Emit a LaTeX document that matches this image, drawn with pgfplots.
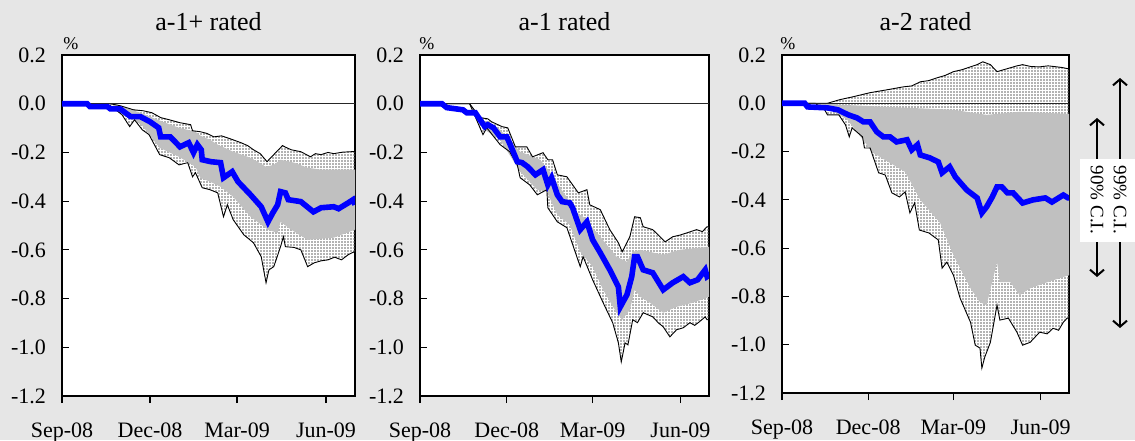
\documentclass[border=0pt]{standalone}
\usepackage{fontspec}
\setmainfont{Liberation Serif}
\usepackage{pgfplots}
\pgfplotsset{compat=1.18}
\usepgfplotslibrary{fillbetween}
\usetikzlibrary{patterns.meta,arrows.meta}
\definecolor{bg}{RGB}{230,230,230}
\definecolor{band}{RGB}{192,192,192}
\definecolor{med}{RGB}{0,0,255}
\pagecolor{bg}
\pgfplotsset{panel/.style={
  scale only axis, anchor=south west,
  xmin=0, xmax=303, ymin=-1.2, ymax=0.2,
  xtick={0,91,181,273}, xticklabels={Sep-08,Dec-08,Mar-09,Jun-09},
  ytick={-1.2,-1.0,-0.8,-0.6,-0.4,-0.2,0,0.2},
  yticklabels={-1.2,-1.0,-0.8,-0.6,-0.4,-0.2,0.0,0.2},
  xtick pos=left, ytick pos=left,
  xtick align=outside, ytick align=inside,
  major tick length=3.5pt,
  tick style={black, line width=0.6pt},
  axis line style={line width=1pt},
  axis background/.style={fill=white},
  ticklabel style={font=\fontsize{11}{12}\selectfont},
  yticklabel style={xshift=-4.5pt},
  xticklabel style={anchor=base, yshift=-17pt},
  clip=true,
},
dotsfill/.style={pattern={Dots[distance=1.5pt,radius=0.48pt]}, pattern color=black!60},
outl/.style={black, line width=0.45pt},
medl/.style={med, line width=2.8pt},
zerol/.style={black!85, line width=0.5pt},
}
\begin{document}
\begin{tikzpicture}

% ---------------- panel 1: a-1+ rated
\begin{axis}[panel, at={(31pt,22pt)}, width=146.5pt, height=170.5pt]
\addplot[outl, name path=u99] coordinates {(0,0) (50,0) (60,-0.008) (74,-0.025) (84,-0.029) (93,-0.037) (102,-0.057) (111,-0.066) (122,-0.078) (133,-0.086) (135,-0.111) (143,-0.115) (150,-0.122) (157,-0.136) (165,-0.132) (174,-0.144) (185,-0.160) (192,-0.172) (198,-0.189) (205,-0.205) (212,-0.238) (219,-0.209) (228,-0.172) (232,-0.180) (237,-0.189) (247,-0.197) (257,-0.218) (262,-0.205) (268,-0.209) (275,-0.200) (281,-0.205) (290,-0.199) (299,-0.197) (303,-0.197)};
\addplot[outl, name path=l99] coordinates {(0,0) (39,0) (50,-0.008) (62,-0.045) (70,-0.094) (75,-0.066) (83,-0.107) (90,-0.127) (101,-0.209) (111,-0.222) (121,-0.251) (130,-0.242) (135,-0.300) (138,-0.283) (145,-0.345) (153,-0.353) (161,-0.366) (167,-0.464) (171,-0.415) (177,-0.476) (188,-0.538) (198,-0.571) (206,-0.628) (211,-0.735) (214,-0.682) (219,-0.669) (226,-0.587) (229,-0.546) (231,-0.587) (240,-0.590) (247,-0.600) (254,-0.669) (261,-0.653) (268,-0.645) (275,-0.641) (282,-0.630) (289,-0.641) (296,-0.620) (302,-0.608) (303,-0.620)};
\addplot[draw=none, name path=u90] coordinates {(0,0) (50,0) (65,-0.016) (81,-0.037) (91,-0.053) (104,-0.074) (121,-0.099) (138,-0.115) (143,-0.131) (153,-0.148) (161,-0.168) (177,-0.197) (195,-0.222) (211,-0.259) (219,-0.251) (226,-0.230) (240,-0.242) (254,-0.263) (268,-0.271) (281,-0.271) (303,-0.271)};
\addplot[draw=none, name path=l90] coordinates {(0,0) (50,0) (60,-0.025) (71,-0.057) (83,-0.090) (91,-0.131) (101,-0.181) (121,-0.218) (138,-0.259) (143,-0.304) (153,-0.320) (164,-0.341) (177,-0.382) (195,-0.464) (213,-0.517) (223,-0.530) (226,-0.485) (237,-0.517) (254,-0.559) (281,-0.550) (303,-0.517)};
\addplot[dotsfill] fill between[of=u99 and l99];
\addplot[fill=band, draw=none] fill between[of=u90 and l90];
\addplot[zerol] coordinates {(0,0) (303,0)};
\addplot[medl] coordinates {(0,0) (26,0) (29,-0.012) (47,-0.012) (50,-0.021) (60,-0.021) (71,-0.053) (81,-0.053) (91,-0.074) (100,-0.099) (102,-0.136) (112,-0.136) (122,-0.177) (131,-0.160) (136,-0.201) (140,-0.168) (144,-0.189) (145,-0.230) (154,-0.238) (164,-0.242) (167,-0.304) (176,-0.279) (182,-0.320) (195,-0.374) (206,-0.423) (213,-0.485) (218,-0.448) (223,-0.415) (226,-0.361) (231,-0.366) (234,-0.394) (247,-0.402) (260,-0.444) (268,-0.427) (281,-0.423) (286,-0.431) (296,-0.407) (301,-0.394) (303,-0.415)};
\end{axis}

% ---------------- panel 2: a-1 rated
\begin{axis}[panel, at={(210pt,22pt)}, width=144.5pt, height=170.5pt]
\addplot[outl, name path=u99] coordinates {(0,0) (52,0) (63,-0.057) (71,-0.062) (75,-0.074) (86,-0.094) (92,-0.099) (100,-0.177) (112,-0.177) (118,-0.218) (129,-0.201) (134,-0.230) (139,-0.230) (144,-0.292) (154,-0.300) (166,-0.366) (175,-0.353) (178,-0.415) (189,-0.435) (199,-0.517) (208,-0.571) (212,-0.608) (220,-0.546) (225,-0.464) (231,-0.468) (234,-0.505) (244,-0.517) (250,-0.540) (257,-0.567) (265,-0.546) (272,-0.540) (280,-0.530) (290,-0.517) (296,-0.525) (301,-0.505) (303,-0.505)};
\addplot[outl, name path=l99] coordinates {(0,0) (52,0) (66,-0.127) (70,-0.099) (84,-0.168) (94,-0.197) (102,-0.251) (105,-0.304) (115,-0.333) (123,-0.374) (133,-0.353) (134,-0.427) (144,-0.485) (154,-0.509) (168,-0.669) (171,-0.628) (181,-0.723) (192,-0.817) (202,-0.899) (208,-0.982) (211,-1.060) (215,-0.982) (218,-0.990) (223,-0.887) (228,-0.899) (234,-0.858) (244,-0.875) (250,-0.900) (255,-0.916) (262,-0.957) (269,-0.928) (276,-0.920) (283,-0.899) (288,-0.910) (293,-0.895) (299,-0.875) (301,-0.887) (303,-0.887)};
\addplot[draw=none, name path=u90] coordinates {(0,0) (52,0) (68,-0.074) (84,-0.107) (105,-0.197) (126,-0.230) (136,-0.279) (147,-0.345) (165,-0.448) (171,-0.464) (189,-0.546) (206,-0.628) (217,-0.649) (223,-0.608) (231,-0.600) (255,-0.620) (272,-0.600) (303,-0.587)};
\addplot[draw=none, name path=l90] coordinates {(0,0) (52,0) (68,-0.107) (84,-0.148) (105,-0.279) (123,-0.353) (133,-0.361) (144,-0.456) (157,-0.497) (168,-0.608) (181,-0.669) (192,-0.764) (206,-0.858) (212,-0.887) (220,-0.846) (225,-0.764) (231,-0.793) (241,-0.817) (255,-0.858) (269,-0.834) (286,-0.817) (303,-0.793)};
\addplot[dotsfill] fill between[of=u99 and l99];
\addplot[fill=band, draw=none] fill between[of=u90 and l90];
\addplot[zerol] coordinates {(0,0) (303,0)};
\addplot[medl] coordinates {(0,0) (23,0) (28,-0.016) (45,-0.025) (49,-0.037) (58,-0.037) (63,-0.066) (68,-0.094) (71,-0.086) (77,-0.099) (84,-0.136) (91,-0.136) (96,-0.181) (102,-0.238) (107,-0.242) (113,-0.259) (121,-0.292) (129,-0.271) (134,-0.333) (138,-0.304) (144,-0.374) (149,-0.402) (157,-0.407) (160,-0.427) (168,-0.517) (175,-0.485) (181,-0.559) (189,-0.612) (199,-0.682) (208,-0.752) (210,-0.834) (217,-0.784) (222,-0.710) (225,-0.628) (228,-0.628) (234,-0.682) (244,-0.694) (255,-0.764) (265,-0.735) (276,-0.710) (283,-0.735) (291,-0.723) (299,-0.682) (301,-0.710) (303,-0.705)};
\end{axis}

% ---------------- panel 3: a-2 rated
\begin{axis}[panel, at={(391pt,23.5pt)}, width=143.5pt, height=169pt]
\addplot[outl, name path=u99] coordinates {(0,0) (48,0) (61,0.015) (75,0.027) (93,0.044) (111,0.056) (128,0.068) (137,0.072) (146,0.089) (155,0.094) (164,0.106) (172,0.115) (181,0.131) (190,0.139) (199,0.151) (206,0.160) (212,0.172) (220,0.160) (227,0.131) (234,0.139) (241,0.147) (248,0.155) (254,0.160) (263,0.152) (272,0.151) (281,0.155) (290,0.151) (296,0.148) (302,0.143) (303,0.143)};
\addplot[outl, name path=l99] coordinates {(0,0) (35,0) (45,-0.027) (48,-0.048) (60,-0.048) (67,-0.089) (71,-0.139) (74,-0.102) (85,-0.139) (87,-0.185) (93,-0.185) (102,-0.288) (109,-0.297) (116,-0.371) (124,-0.388) (130,-0.367) (135,-0.454) (140,-0.413) (145,-0.525) (155,-0.537) (165,-0.566) (169,-0.683) (174,-0.658) (181,-0.712) (188,-0.807) (199,-0.907) (204,-1.002) (209,-1.014) (211,-1.097) (214,-1.052) (220,-0.990) (227,-0.836) (230,-0.898) (239,-0.890) (248,-0.948) (254,-1.002) (262,-0.990) (272,-0.948) (280,-0.955) (286,-0.932) (292,-0.940) (297,-0.907) (301,-0.890) (303,-0.890)};
\addplot[draw=none, name path=u90] coordinates {(0,0) (48,0) (61,-0.006) (111,-0.015) (181,-0.027) (216,-0.048) (251,-0.035) (303,-0.044)};
\addplot[draw=none, name path=l90] coordinates {(0,0) (35,0) (48,-0.019) (69,-0.068) (96,-0.205) (130,-0.284) (146,-0.400) (167,-0.496) (181,-0.629) (199,-0.766) (209,-0.824) (216,-0.836) (227,-0.658) (230,-0.741) (241,-0.741) (251,-0.795) (262,-0.766) (280,-0.741) (303,-0.712)};
\addplot[dotsfill] fill between[of=u99 and l99];
\addplot[fill=band, draw=none] fill between[of=u90 and l90];
\addplot[zerol] coordinates {(0,0) (303,0)};
\addplot[medl] coordinates {(0,0) (24,0) (27,-0.015) (48,-0.019) (59,-0.027) (70,-0.048) (79,-0.060) (86,-0.077) (93,-0.077) (100,-0.118) (107,-0.139) (114,-0.139) (121,-0.160) (132,-0.151) (137,-0.193) (143,-0.172) (146,-0.214) (156,-0.226) (165,-0.243) (169,-0.288) (177,-0.263) (183,-0.305) (195,-0.359) (206,-0.392) (211,-0.454) (216,-0.429) (222,-0.388) (227,-0.346) (232,-0.346) (238,-0.371) (244,-0.371) (254,-0.413) (265,-0.400) (278,-0.392) (285,-0.409) (297,-0.380) (302,-0.392) (303,-0.392)};
\end{axis}

% titles and unit labels
\node[anchor=base, font=\fontsize{13}{15}\selectfont] at (104.25pt,204.5pt) {a-1+ rated};
\node[anchor=base, font=\fontsize{13}{15}\selectfont] at (282.25pt,204.5pt) {a-1 rated};
\node[anchor=base, font=\fontsize{13}{15}\selectfont] at (462.75pt,204.5pt) {a-2 rated};
\node[anchor=base west, inner sep=0pt, font=\fontsize{9}{10}\selectfont] at (31.5pt,195pt) {\%};
\node[anchor=base west, inner sep=0pt, font=\fontsize{9}{10}\selectfont] at (209.5pt,195pt) {\%};
\node[anchor=base west, inner sep=0pt, font=\fontsize{9}{10}\selectfont] at (390pt,195pt) {\%};

% confidence interval annotation
\draw[line width=1pt, {Straight Barb[length=3pt,width=7pt]}-{Straight Barb[length=3pt,width=7pt]}] (560pt,56pt) -- (560pt,181pt);
\draw[line width=1pt, {Straight Barb[length=3pt,width=7pt]}-{Straight Barb[length=3pt,width=7pt]}] (548.5pt,81.5pt) -- (548.5pt,161pt);
\fill[white] (540pt,99pt) rectangle (567.5pt,140.5pt);
\node[rotate=-90, inner sep=0pt, font=\fontsize{9.5}{11}\selectfont] at (560pt,120pt) {99\% C.I.};
\node[rotate=-90, inner sep=0pt, font=\fontsize{9.5}{11}\selectfont] at (548.5pt,120pt) {90\% C.I.};
\pgfresetboundingbox
\path[use as bounding box] (0,0) rectangle (567.5pt,220pt);
\end{tikzpicture}
\end{document}
